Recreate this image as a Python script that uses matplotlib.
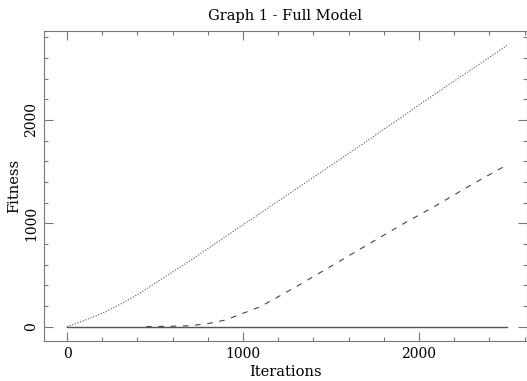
import numpy as np
import matplotlib
matplotlib.use('Agg')
import matplotlib.pyplot as plt
from matplotlib.ticker import MultipleLocator

# Data
iters = [0, 100, 200, 300, 400, 500, 600, 700, 800, 900, 1000, 1100, 1200,
         1300, 1400, 1500, 1600, 1700, 1800, 1900, 2000, 2100, 2200, 2300,
         2400, 2500]
fitness_dotted = [0, 62, 130, 215, 310, 420, 530, 640, 755, 870, 985, 1100,
                  1215, 1330, 1445, 1560, 1675, 1790, 1910, 2025, 2145, 2260,
                  2375, 2490, 2605, 2720]

dashed_iters = [450, 500, 600, 700, 800, 900, 1000, 1100, 1200, 1300, 1400,
                1500, 1600, 1700, 1800, 1900, 2000, 2100, 2200, 2300, 2400,
                2500]
fitness_dashed = [0, 2, 5, 10, 30, 65, 130, 195, 290, 385, 485, 585, 685,
                  785, 885, 985, 1080, 1175, 1275, 1375, 1470, 1565]

flat_iters = [0, 2500]
fitness_flat = [0, 0]

plt.rcParams['font.family'] = 'DejaVu Serif'
plt.rcParams['font.size'] = 10

fig = plt.figure(figsize=(5.27, 3.81), dpi=100)
ax = fig.add_axes([44 / 527, 40 / 381, 483 / 527, 310 / 381])

ax.plot(flat_iters, fitness_flat, color='#555555', lw=1.0)
ax.plot(dashed_iters, fitness_dashed, color='#444444', lw=0.8,
        linestyle=(0, (5, 6)))
ax.plot(iters, fitness_dotted, color='#555555', lw=0.8,
        linestyle=(0, (1, 1.5)))

ax.set_xlim(-131, 2614)
ax.set_ylim(-138, 2860)

ax.xaxis.set_major_locator(MultipleLocator(1000))
ax.xaxis.set_minor_locator(MultipleLocator(200))
ax.yaxis.set_major_locator(MultipleLocator(1000))
ax.yaxis.set_minor_locator(MultipleLocator(200))

ax.tick_params(which='both', direction='in', top=True, right=True,
               color='#777777', width=0.8)
ax.tick_params(which='major', length=6.5, pad=4)
ax.tick_params(which='minor', length=3.2)
for lbl in ax.get_yticklabels():
    lbl.set_rotation(90)
    lbl.set_verticalalignment('center')

for s in ax.spines.values():
    s.set_color('#777777')
    s.set_linewidth(0.8)

ax.set_title('Graph 1 - Full Model', fontsize=10.5, pad=8)
ax.set_xlabel('Iterations', fontsize=10.5, labelpad=3)
ax.set_ylabel('Fitness', fontsize=10.5, labelpad=2)

fig.savefig('out.png', dpi=100)
